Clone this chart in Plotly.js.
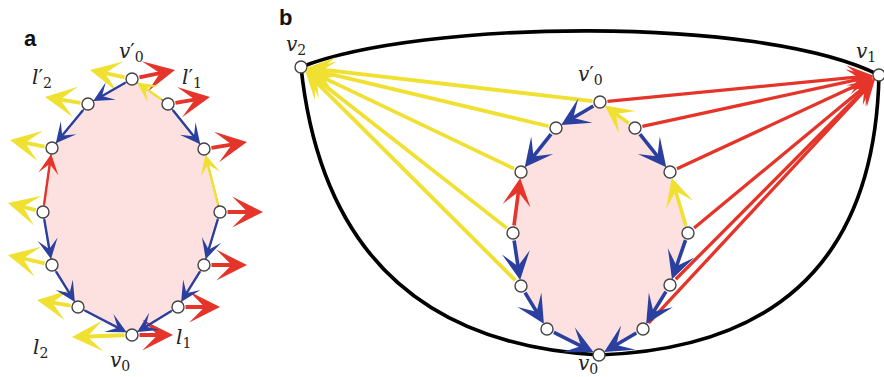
<!DOCTYPE html>
<html><head><meta charset="utf-8">
<script src="https://cdn.plot.ly/plotly-3.0.1.min.js"></script>
<style>html,body{margin:0;padding:0;background:#fff}#plot{width:884px;height:377px}</style>
</head><body><div id="plot"></div>
<script>
// ---------- Panel a : polygon vertices (clockwise from v0') ----------
const aVX = [132, 168, 204, 220, 204, 178, 132, 78, 52, 43, 52, 88];
const aVY = [79, 104, 149, 212, 265, 307, 335, 307, 265, 212, 148, 104];
// yellow outward arrows (vertex index -> tip)
const aYelIdx = [0, 11, 10, 9, 8, 7, 6];
const aYelTipX = [90, 45, 10, 8, 8, 37, 72];
const aYelTipY = [70, 97, 140, 203, 255, 300, 337];
// red outward arrows
const aRedIdx = [0, 1, 2, 3, 4, 5, 6];
const aRedTipX = [175, 210, 247, 263, 247, 220, 173];
const aRedTipY = [70, 97, 142, 212, 265, 307, 335];

// ---------- Panel b : polygon vertices ----------
const bVX = [600, 635, 670, 688, 670, 643, 599, 547, 521, 513, 521, 556];
const bVY = [102, 128, 172, 233, 285, 329, 355, 329, 286, 233, 172, 128];
const v1 = [879, 75];
const v2 = [301, 67];
const v0 = [599, 355];
const bYelIdx = [0, 11, 10, 9, 8];
const bRedIdx = [0, 1, 2, 3, 4, 5];
// outer boundary curves (Bezier control points)
const topCtrl = [[420, 20], [760, 15]];
const leftCtrl = [330, 340];
const rightCtrl = [873, 345];

// ---------- edge arrows (from, to, colour) shared by both panels ----------
const edgeFrom = [0, 11, 9, 9, 8, 7, 1, 1, 3, 3, 4, 5];
const edgeTo   = [11, 10, 10, 8, 7, 6, 0, 2, 2, 4, 5, 6];
const edgeCol  = ['b','b','r','b','b','b','y','b','y','b','b','b'];

// ---------- labels ----------
const labText = ['l','l','l','l','v','v','v','v','v','v'];
const labSub  = ['2','1','2','1','0','0','2','0','1','0'];
const labPrime= [true,true,false,false,true,false,false,true,false,false];
const labX = [42, 192, 40, 183, 131, 120, 296, 590, 866, 588];
const labY = [78, 78, 348, 338, 52, 361, 45, 75, 52, 364];

const COL = {y: '#efe031', r: '#e5352a', b: '#2b3f9f'};
const PINK = 'rgb(253,225,225)';

const traces = [];
const annotations = [];
const shapes = [];

function closed(a){ return a.concat([a[0]]); }

// panel a polygon
traces.push({x: closed(aVX), y: closed(aVY), mode: 'lines', fill: 'toself', fillcolor: PINK,
  line: {color: '#555', width: 1.3}, hoverinfo: 'skip'});
// panel b polygon
traces.push({x: closed(bVX), y: closed(bVY), mode: 'lines', fill: 'toself', fillcolor: PINK,
  line: {color: 'rgba(0,0,0,0)', width: 0}, hoverinfo: 'skip'});

// outer curves
const outer = {color: '#000', width: 3.6};
shapes.push({type: 'path', xref: 'x', yref: 'y', layer: 'below', line: outer,
  path: `M${v2[0]},${v2[1]} C${topCtrl[0][0]},${topCtrl[0][1]} ${topCtrl[1][0]},${topCtrl[1][1]} ${v1[0]},${v1[1]}`});
shapes.push({type: 'path', xref: 'x', yref: 'y', layer: 'below', line: outer,
  path: `M${v2[0]},${v2[1]} Q${leftCtrl[0]},${leftCtrl[1]} ${v0[0]},${v0[1]}`});
shapes.push({type: 'path', xref: 'x', yref: 'y', layer: 'below', line: outer,
  path: `M${v1[0]},${v1[1]} Q${rightCtrl[0]},${rightCtrl[1]} ${v0[0]},${v0[1]}`});

function arrow(x0, y0, x1, y1, color, w, size, ss, se){
  annotations.push({x: x1, y: y1, ax: x0, ay: y0, xref: 'x', yref: 'y', axref: 'x', ayref: 'y',
    showarrow: true, arrowhead: 3, arrowsize: size, arrowwidth: w, arrowcolor: color,
    startstandoff: ss, standoff: se, text: ''});
}

// panel a outward arrows
aYelIdx.forEach((k, i) => arrow(aVX[k], aVY[k], aYelTipX[i], aYelTipY[i], COL.y, 3.8, 1.35, 6, 0));
aRedIdx.forEach((k, i) => arrow(aVX[k], aVY[k], aRedTipX[i], aRedTipY[i], COL.r, 3.8, 1.35, 6, 0));
// panel a edge arrows
edgeFrom.forEach((f, i) => {
  const t = edgeTo[i];
  arrow(aVX[f], aVY[f], aVX[t], aVY[t], COL[edgeCol[i]], 2.4, 1.4, 6, 6);
});

// panel b spokes
bYelIdx.forEach(k => arrow(bVX[k], bVY[k], v2[0], v2[1], COL.y, 3.8, 1.2, 6, 6));
bRedIdx.forEach(k => arrow(bVX[k], bVY[k], v1[0], v1[1], COL.r, 3.3, 1.3, 6, 6));
// panel b edge arrows
edgeFrom.forEach((f, i) => {
  const t = edgeTo[i];
  arrow(bVX[f], bVY[f], bVX[t], bVY[t], COL[edgeCol[i]], 3.6, 1.3, 6, 6);
});

// vertex circles
traces.push({x: aVX.concat(bVX, [v1[0], v2[0]]), y: aVY.concat(bVY, [v1[1], v2[1]]), mode: 'markers',
  marker: {size: 12, color: '#fff', line: {color: '#444', width: 1.4}}, hoverinfo: 'skip'});

// labels
labText.forEach((t, i) => {
  const txt = labPrime[i]
    ? '<i>' + t + '</i>′<sub>' + labSub[i] + '</sub>'
    : '<i>' + t + '</i><sub>' + labSub[i] + '</sub>';
  annotations.push({x: labX[i], y: labY[i], xref: 'x', yref: 'y', showarrow: false, text: txt,
    font: {family: 'DejaVu Serif, Liberation Serif, serif', size: 20, color: '#222'}});
});
// panel letters
annotations.push({x: 30, y: 38, xref: 'x', yref: 'y', showarrow: false, text: '<b>a</b>',
  font: {family: 'Liberation Sans, Arial, sans-serif', size: 22, color: '#111'}});
annotations.push({x: 285, y: 17, xref: 'x', yref: 'y', showarrow: false, text: '<b>b</b>',
  font: {family: 'Liberation Sans, Arial, sans-serif', size: 22, color: '#111'}});

const layout = {
  width: 884, height: 377, margin: {l: 0, r: 0, t: 0, b: 0},
  paper_bgcolor: '#fff', plot_bgcolor: '#fff', showlegend: false,
  xaxis: {range: [0, 884], visible: false, fixedrange: true},
  yaxis: {range: [377, 0], visible: false, fixedrange: true},
  shapes: shapes, annotations: annotations
};
Plotly.newPlot('plot', traces, layout, {staticPlot: true, displayModeBar: false});
</script></body></html>
